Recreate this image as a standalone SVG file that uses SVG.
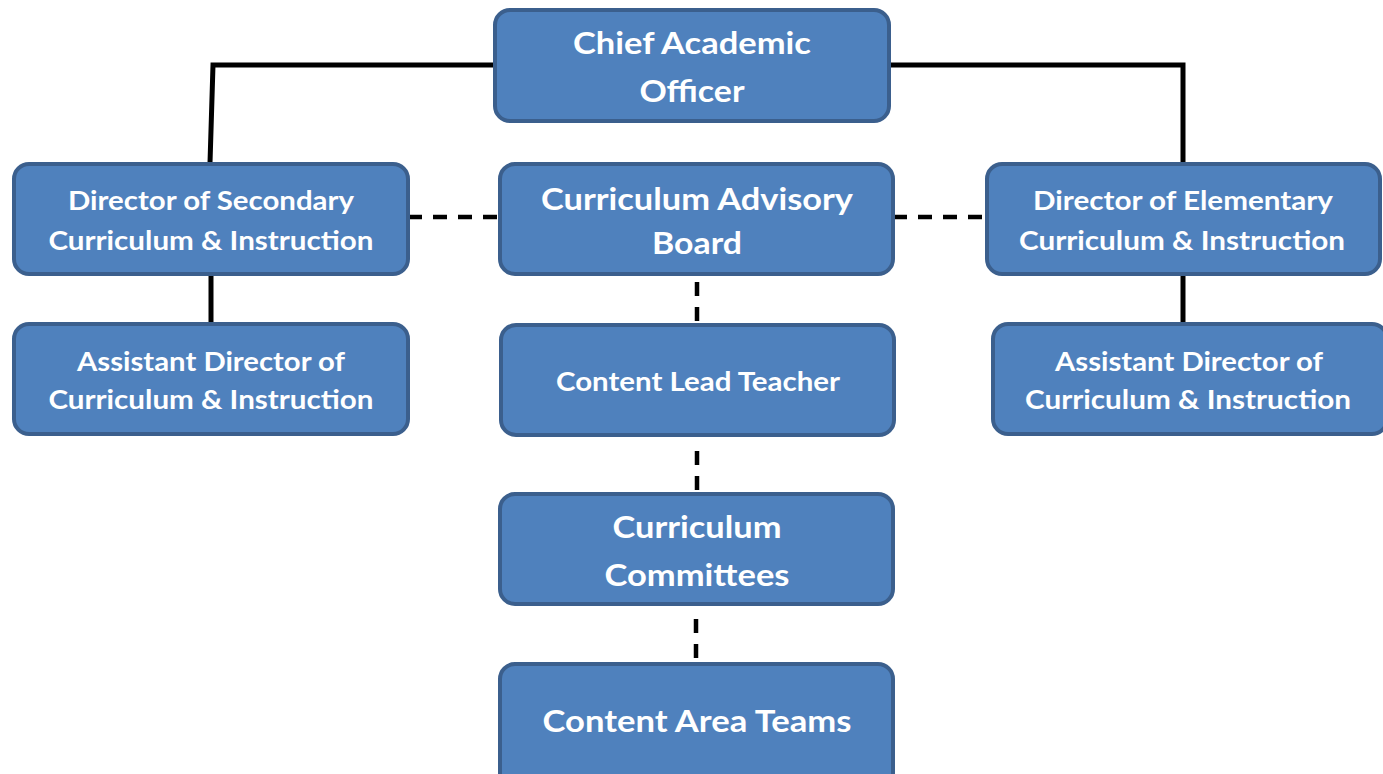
<svg xmlns="http://www.w3.org/2000/svg" width="1383" height="774" viewBox="0 0 1383 774">
  <style>
    .box { fill: #4f81bd; stroke: #3b5f8d; stroke-width: 4; }
    .lbl { font-family: Lato, "Liberation Sans", sans-serif; font-weight: bold; fill: #ffffff; text-anchor: middle; }
    .solid { fill: none; stroke: #000000; stroke-width: 5; }
    .dash { fill: none; stroke: #000000; stroke-width: 4.5; stroke-dasharray: 14 11; }
  </style>
  <rect width="1383" height="774" fill="#ffffff"/>

  <!-- connectors -->
  <g id="connectors">
    <polyline class="solid" points="495,65 213,65 210,163"/>
    <polyline class="solid" points="889,65 1183,65 1183,163"/>
    <line class="solid" x1="211" y1="274" x2="211" y2="323"/>
    <line class="solid" x1="1183" y1="274" x2="1183" y2="323"/>
    <line class="dash" x1="408" y1="217" x2="500" y2="217"/>
    <line class="dash" x1="893" y1="217" x2="986" y2="217"/>
    <line class="dash" x1="697" y1="282" x2="697" y2="324"/>
    <line class="dash" x1="697" y1="451" x2="697" y2="493"/>
    <line class="dash" x1="696" y1="619" x2="696" y2="663"/>
  </g>

  <g id="chief-academic-officer">
    <rect class="box" x="495" y="10" width="394" height="111" rx="15"/>
    <text class="lbl" font-size="31" x="692" y="54" textLength="238" lengthAdjust="spacingAndGlyphs">Chief Academic</text>
    <text class="lbl" font-size="31" x="692" y="102" textLength="105" lengthAdjust="spacingAndGlyphs">Officer</text>
  </g>

  <g id="director-secondary">
    <rect class="box" x="14" y="164" width="394" height="110" rx="15"/>
    <text class="lbl" font-size="26" x="211" y="210" textLength="286" lengthAdjust="spacingAndGlyphs">Director of Secondary</text>
    <text class="lbl" font-size="26" x="211" y="250" textLength="325" lengthAdjust="spacingAndGlyphs">Curriculum &amp; Instruction</text>
  </g>

  <g id="curriculum-advisory-board">
    <rect class="box" x="500" y="164" width="393" height="110" rx="15"/>
    <text class="lbl" font-size="31" x="697" y="210" textLength="312" lengthAdjust="spacingAndGlyphs">Curriculum Advisory</text>
    <text class="lbl" font-size="31" x="697" y="254" textLength="90" lengthAdjust="spacingAndGlyphs">Board</text>
  </g>

  <g id="director-elementary">
    <rect class="box" x="987" y="164" width="393" height="110" rx="15"/>
    <text class="lbl" font-size="26" x="1183" y="210" textLength="300" lengthAdjust="spacingAndGlyphs">Director of Elementary</text>
    <text class="lbl" font-size="26" x="1182" y="250" textLength="326" lengthAdjust="spacingAndGlyphs">Curriculum &amp; Instruction</text>
  </g>

  <g id="assistant-director-left">
    <rect class="box" x="14" y="324" width="394" height="110" rx="15"/>
    <text class="lbl" font-size="26" x="211" y="371" textLength="268" lengthAdjust="spacingAndGlyphs">Assistant Director of</text>
    <text class="lbl" font-size="26" x="211" y="409" textLength="325" lengthAdjust="spacingAndGlyphs">Curriculum &amp; Instruction</text>
  </g>

  <g id="content-lead-teacher">
    <rect class="box" x="501" y="325" width="393" height="110" rx="15"/>
    <text class="lbl" font-size="26" x="698" y="391" textLength="284" lengthAdjust="spacingAndGlyphs">Content Lead Teacher</text>
  </g>

  <g id="assistant-director-right">
    <rect class="box" x="993" y="324" width="394" height="110" rx="15"/>
    <text class="lbl" font-size="26" x="1189" y="371" textLength="268" lengthAdjust="spacingAndGlyphs">Assistant Director of</text>
    <text class="lbl" font-size="26" x="1188" y="409" textLength="326" lengthAdjust="spacingAndGlyphs">Curriculum &amp; Instruction</text>
  </g>

  <g id="curriculum-committees">
    <rect class="box" x="500" y="494" width="393" height="110" rx="15"/>
    <text class="lbl" font-size="31" x="697" y="538" textLength="169" lengthAdjust="spacingAndGlyphs">Curriculum</text>
    <text class="lbl" font-size="31" x="697" y="586" textLength="185" lengthAdjust="spacingAndGlyphs">Committees</text>
  </g>

  <g id="content-area-teams">
    <rect class="box" x="500" y="664" width="393" height="125" rx="15"/>
    <text class="lbl" font-size="31" x="697" y="732" textLength="309" lengthAdjust="spacingAndGlyphs">Content Area Teams</text>
  </g>
</svg>
